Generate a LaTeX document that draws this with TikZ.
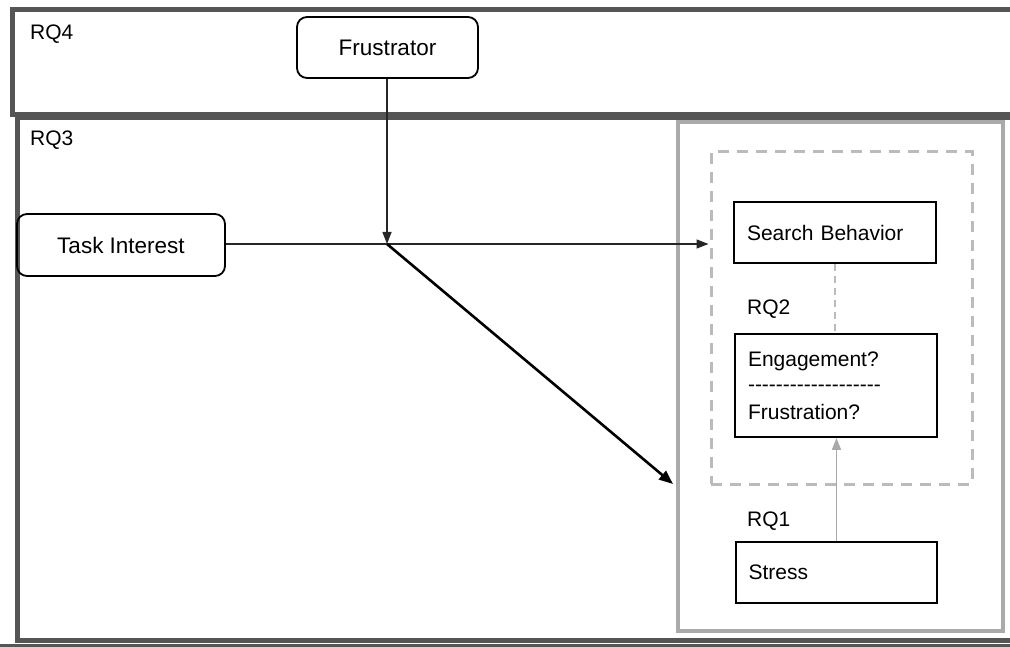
\documentclass[tikz,border=0pt]{standalone}
\usepackage{fontspec}
\setmainfont{Liberation Sans}
\usetikzlibrary{arrows.meta}
\newcommand\hy{\mbox{-}}
\definecolor{framegray}{HTML}{555555}
\definecolor{panelgray}{HTML}{AAAAAA}
\definecolor{dashgray}{HTML}{BBBBBB}
\tikzset{
  frame/.style={draw=framegray, line width=5pt, minimum width=#1, inner sep=0pt, anchor=north west},
  roundbox/.style={draw=black, line width=1.8pt, rounded corners=10pt, font=\fontsize{22.5}{27}\selectfont, inner sep=0pt},
  rectbox/.style={draw=black, line width=1.8pt, font=\fontsize{21}{26.5}\selectfont, inner sep=0pt, text width=176pt, align=left},
  rqlabel/.style={font=\fontsize{21}{25}\selectfont, anchor=base west, inner sep=0pt},
  conn/.style={draw=black!85, line width=1.4pt, -{Triangle[length=12pt,width=9pt]}},
  bigconn/.style={draw=black, line width=2.6pt, -{Triangle[length=14pt,width=11pt]}},
  grayconn/.style={draw=panelgray, line width=1.6pt, -{Triangle[length=12pt,width=9pt]}},
}
\begin{document}
\begin{tikzpicture}[x=1pt,y=-1pt]
\useasboundingbox (0,0) rectangle (1010,647);
% frames
\node[frame=1010pt, minimum height=105pt] (rq4frame) at (10,7) {};
\node[frame=1010pt, minimum height=523pt] (rq3frame) at (15,115) {};
\draw[framegray, line width=5pt] (0,646) -- (1010,646);
% panels
\node[draw=panelgray, line width=4pt, minimum width=325pt, minimum height=509pt, inner sep=0pt] (rq1box) at (840.5,376.5) {};
\node[draw=dashgray, line width=3pt, dash pattern=on 11pt off 8pt, minimum width=261pt, minimum height=332pt, inner sep=0pt] (rq2box) at (841.5,318) {};
% labels
\node[rqlabel] (l4) at (30,40) {RQ4};
\node[rqlabel] (l3) at (30,146) {RQ3};
\node[rqlabel] (l2) at (747,315) {RQ2};
\node[rqlabel] (l1) at (747,526) {RQ1};
% nodes
\node[roundbox, minimum width=181pt, minimum height=61pt] (fru) at (387.5,47.5) {Frustrator};
\node[roundbox, minimum width=208pt, minimum height=62pt] (ti) at (121,245) {Task Interest};
\node[rectbox, minimum width=202pt, minimum height=61pt] (sb) at (835,232.5) {Search Behavior};
\node[rectbox, minimum width=202pt, minimum height=103pt] (eng) at (836,385.5) {Engagement?\\[-1pt]\hy\hy\hy\hy\hy\hy\hy\hy\hy\hy\hy\hy\hy\hy\hy\hy\hy\hy\hy\\[1pt]Frustration?};
\node[rectbox, minimum width=201pt, minimum height=61pt] (st) at (836.5,572.5) {Stress};
% connectors
\coordinate (J) at (387,244);
\coordinate (dend) at (673,484);
\draw[conn] (fru.south -| J) -- (J);
\draw[conn, shorten >=1pt] (ti.east |- J) -- (rq2box.west |- J);
\draw[bigconn] (J) -- (dend);
\draw[dashgray, line width=1.2pt, dash pattern=on 7pt off 5pt] (sb.south) -- (sb.south |- eng.north);
\draw[grayconn] (st.north) -- (st.north |- eng.south);
\end{tikzpicture}
\end{document}
